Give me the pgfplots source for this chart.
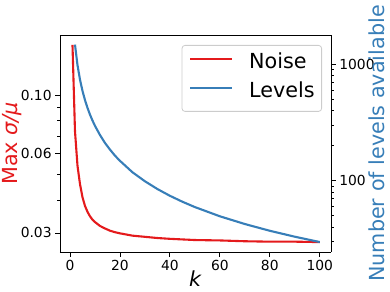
\documentclass[border=0pt]{standalone}
\usepackage{fontspec}
\setmainfont{DejaVu Sans}
\usepackage{pgfplots}
\pgfplotsset{compat=1.18}
\definecolor{cred}{HTML}{E41A1C}
\definecolor{cblue}{HTML}{377EB8}
\begin{document}
\begin{tikzpicture}
\path[use as bounding box] (-60bp,-40bp) rectangle (330bp,252bp);
\begin{semilogyaxis}[
  scale only axis, width=271bp, height=217bp,
  at={(0,0)}, anchor=south west,
  xmin=-4, xmax=104.5,
  tick label style={font=\fontsize{13.9}{16}\selectfont},
  tick align=outside,
  major tick length=4.86bp, minor tick length=2.8bp,
  every tick/.style={black, line width=0.8bp},
  every minor tick/.style={black, line width=0.6bp},
  axis line style={line width=0.8bp},
  ymin=0.0254, ymax=0.169,
  axis y line*=left,
  xtick={0,20,40,60,80,100},
  xticklabels={0,20,40,60,80,100},
  xtick pos=bottom,
  ytick={0.03,0.06,0.1},
  yticklabels={0.03,0.06,0.10},
  minor ytick={0.04,0.05,0.07,0.08,0.09},
  xlabel={\textit{k}},
  xlabel style={at={(axis description cs:0.5,-0.159)}, anchor=base, inner sep=0pt, font=\fontsize{20.8}{24}\selectfont},
  ylabel={Max \textit{σ/μ}},
  ylabel style={at={(axis description cs:-0.155,0.5)}, anchor=base, inner sep=0pt, font=\fontsize{20.8}{24}\selectfont, text=cred},
]
\addplot[cred, line width=2.1bp] coordinates {
(1,0.1550) (2,0.0730) (3,0.0540) (4,0.0460) (5,0.0410) (6,0.0380) (7,0.0361) (8,0.0347)
(9,0.0337) (10,0.0330) (12,0.0319) (14,0.0312) (16,0.0306) (18,0.0302) (20,0.0299)
(25,0.0293) (30,0.0290) (35,0.0287) (40,0.0285) (50,0.0282) (60,0.0281) (70,0.0279)
(80,0.0278) (90,0.0278) (100,0.0277)
};
\end{semilogyaxis}
\begin{semilogyaxis}[
  scale only axis, width=271bp, height=217bp,
  at={(0,0)}, anchor=south west,
  xmin=-4, xmax=104.5,
  tick label style={font=\fontsize{13.9}{16}\selectfont},
  tick align=outside,
  major tick length=4.86bp, minor tick length=2.8bp,
  every tick/.style={black, line width=0.8bp},
  every minor tick/.style={black, line width=0.6bp},
  axis line style={line width=0.8bp},
  ymin=24.3, ymax=1790,
  axis y line*=right,
  axis x line=none,
  ytick={100,1000},
  yticklabels={100,1000},
  minor ytick={30,40,50,60,70,80,90,200,300,400,500,600,700,800,900},
  ylabel={Number of levels available},
  ylabel style={at={(axis description cs:1.199,0.5)}, anchor=base, inner sep=0pt, font=\fontsize{20.8}{24}\selectfont, text=cblue},
  legend style={at={(1,1)}, anchor=north east, xshift=-9bp, yshift=-10bp,
    draw=black!20, rounded corners=3bp, line width=0.8bp,
    font=\fontsize{20.8}{24}\selectfont,
    inner xsep=7bp, inner ysep=8bp, row sep=8bp,
    nodes={inner sep=0pt, text height=15.5bp, text depth=5.5bp},
    /tikz/every odd column/.append style={column sep=16bp}},
  legend cell align=left,
  legend image code/.code={\draw[#1] (0bp,5bp) -- (42bp,5bp);},
]
\addlegendimage{cred, line width=2.1bp}
\addlegendentry{Noise}
\addplot[cblue, line width=2.1bp] coordinates {
(2,1480) (3,987) (4,740) (5,592) (6,493) (7,423) (8,370) (9,329) (10,296)
(12,247) (14,211) (16,185) (18,164) (20,148) (25,118) (30,98.7) (35,84.6)
(40,74.0) (45,65.8) (50,59.2) (60,49.3) (70,42.3) (80,37.0) (90,32.9) (100,29.6)
};
\addlegendentry{Levels}
\end{semilogyaxis}
\end{tikzpicture}
\end{document}
